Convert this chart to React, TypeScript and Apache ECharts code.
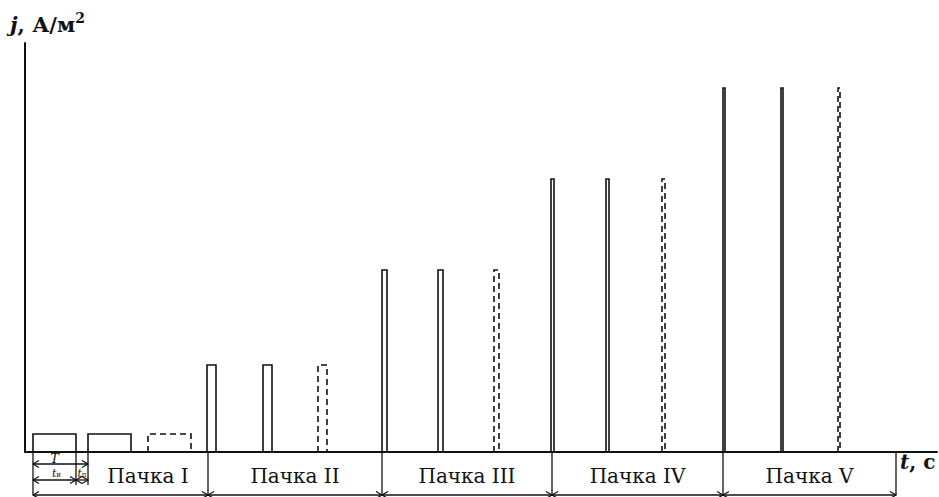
import React, { useEffect, useRef } from "react";
import * as echarts from "echarts";

// Burst (pack) names and boundaries along the time axis (arbitrary time units)
const groupNames = ["Пачка I", "Пачка II", "Пачка III", "Пачка IV", "Пачка V"];
const groupBounds = [8, 183, 357, 527, 698, 871];
// Start time of each of the three pulses in every burst
const pulseStarts = [
  [8, 63, 123],
  [182, 238, 293],
  [357, 413, 469],
  [526, 581, 637],
  [698, 756, 813],
];
// Pulse duration and current density amplitude per burst
const pulseWidths = [43, 9, 5, 3, 2];
const amplitudes = [18, 87, 182, 273, 364];
// Third pulse in every burst is dashed
const dashedPulse = [0, 0, 1];
const tMax = 912;
const jMax = 409;

const FONT = "'DejaVu Serif', 'Liberation Serif', serif";
const INK = "#111";

function arrowHead(x: number, y: number, dir: number) {
  return {
    type: "polyline",
    shape: { points: [[x - dir * 6, y - 3.5], [x, y], [x - dir * 6, y + 3.5]] },
    style: { stroke: INK, lineWidth: 1.2, fill: null },
  };
}

function dimLine(x0: number, x1: number, y: number) {
  return [
    { type: "line", shape: { x1: x0, y1: y, x2: x1, y2: y }, style: { stroke: INK, lineWidth: 1.3 } },
    arrowHead(x0, y, -1),
    arrowHead(x1, y, 1),
  ];
}

export default function App() {
  const ref = useRef<HTMLDivElement>(null);

  useEffect(() => {
    if (!ref.current) return;
    const chart = echarts.init(ref.current, null, { renderer: "svg" });

    const pulseData: number[][] = [];
    pulseStarts.forEach((starts, g) => {
      starts.forEach((s, i) => {
        pulseData.push([s, pulseWidths[g], amplitudes[g], dashedPulse[i]]);
      });
    });

    const boundData = groupBounds.map((b, i) => [b, i]);

    const option: any = {
      animation: false,
      backgroundColor: "#fff",
      grid: { left: 25, right: 2, top: 43, bottom: 45 },
      xAxis: {
        type: "value",
        min: 0,
        max: tMax,
        axisLine: { show: true, lineStyle: { color: INK, width: 2 } },
        axisTick: { show: false },
        axisLabel: { show: false },
        splitLine: { show: false },
      },
      yAxis: {
        type: "value",
        min: 0,
        max: jMax,
        axisLine: { show: true, lineStyle: { color: INK, width: 2 } },
        axisTick: { show: false },
        axisLabel: { show: false },
        splitLine: { show: false },
      },
      series: [
        {
          type: "custom",
          clip: false,
          data: pulseData,
          renderItem: (params: any, api: any) => {
            const s = api.value(0);
            const w = api.value(1);
            const a = api.value(2);
            const d = api.value(3);
            const p0 = api.coord([s, 0]);
            const p1 = api.coord([s + w, a]);
            return {
              type: "polyline",
              shape: {
                points: [
                  [p0[0], p0[1]],
                  [p0[0], p1[1]],
                  [p1[0], p1[1]],
                  [p1[0], p0[1]],
                ],
              },
              style: {
                stroke: INK,
                lineWidth: 1.6,
                fill: null,
                lineDash: d ? [6, 4] : null,
              },
            };
          },
        },
        {
          type: "custom",
          clip: false,
          data: boundData,
          renderItem: (params: any, api: any) => {
            const b = api.value(0);
            const i = api.value(1);
            const p = api.coord([b, 0]);
            const yb = p[1] + 43;
            const children: any[] = [
              { type: "line", shape: { x1: p[0], y1: p[1], x2: p[0], y2: yb }, style: { stroke: INK, lineWidth: 1.3 } },
            ];
            if (i < groupBounds.length - 1) {
              const q = api.coord([groupBounds[i + 1], 0]);
              children.push(...dimLine(p[0], q[0], yb));
              const from = i === 0 ? api.coord([pulseStarts[0][1], 0])[0] : p[0];
              children.push({
                type: "text",
                style: {
                  text: groupNames[i],
                  x: (from + q[0]) / 2,
                  y: p[1] + 24,
                  align: "center",
                  verticalAlign: "middle",
                  fontFamily: FONT,
                  fontSize: 20,
                  fill: INK,
                },
              });
            }
            return { type: "group", children };
          },
        },
        {
          type: "custom",
          clip: false,
          data: [[pulseStarts[0][0], pulseStarts[0][0] + pulseWidths[0], pulseStarts[0][1]]],
          renderItem: (params: any, api: any) => {
            const a = api.coord([api.value(0), 0]);
            const b = api.coord([api.value(1), 0]);
            const c = api.coord([api.value(2), 0]);
            const y0 = a[1];
            const children: any[] = [
              { type: "line", shape: { x1: b[0], y1: y0, x2: b[0], y2: y0 + 33 }, style: { stroke: INK, lineWidth: 1.3 } },
              { type: "line", shape: { x1: c[0], y1: y0, x2: c[0], y2: y0 + 33 }, style: { stroke: INK, lineWidth: 1.3 } },
              ...dimLine(a[0], c[0], y0 + 12),
              ...dimLine(a[0], b[0], y0 + 28),
              ...dimLine(b[0], c[0], y0 + 28),
              {
                type: "text",
                style: {
                  text: "T",
                  x: (a[0] + b[0]) / 2,
                  y: y0 + 6,
                  align: "center",
                  verticalAlign: "middle",
                  fontFamily: FONT,
                  fontStyle: "italic",
                  fontSize: 13,
                  fill: INK,
                },
              },
              {
                type: "text",
                style: {
                  text: "{t|t}{s|и}",
                  x: (a[0] + b[0]) / 2 + 2,
                  y: y0 + 21,
                  align: "center",
                  verticalAlign: "middle",
                  rich: {
                    t: { fontFamily: FONT, fontStyle: "italic", fontSize: 11, fill: INK },
                    s: { fontFamily: FONT, fontSize: 7, fill: INK, verticalAlign: "bottom" },
                  },
                },
              },
              {
                type: "text",
                style: {
                  text: "{t|t}{s|п}",
                  x: (b[0] + c[0]) / 2,
                  y: y0 + 21,
                  align: "center",
                  verticalAlign: "middle",
                  rich: {
                    t: { fontFamily: FONT, fontStyle: "italic", fontSize: 11, fill: INK },
                    s: { fontFamily: FONT, fontSize: 7, fill: INK, verticalAlign: "bottom" },
                  },
                },
              },
            ];
            return { type: "group", children };
          },
        },
      ],
      graphic: [
        {
          type: "text",
          left: 10,
          top: 11,
          style: {
            text: "{i|j}{b|, А/м}{s|2}",
            rich: {
              i: { fontFamily: FONT, fontStyle: "italic", fontWeight: "bold", fontSize: 21, fill: INK, lineHeight: 26 },
              b: { fontFamily: FONT, fontWeight: "bold", fontSize: 21, fill: INK, lineHeight: 26 },
              s: { fontFamily: FONT, fontWeight: "bold", fontSize: 14, fill: INK, verticalAlign: "top", lineHeight: 16 },
            },
          },
        },
        {
          type: "text",
          left: 900,
          top: 452,
          style: {
            text: "{i|t}{b|, с}",
            rich: {
              i: { fontFamily: FONT, fontStyle: "italic", fontWeight: "bold", fontSize: 20, fill: INK },
              b: { fontFamily: FONT, fontWeight: "bold", fontSize: 20, fill: INK },
            },
          },
        },
      ],
    };

    chart.setOption(option);
    return () => chart.dispose();
  }, []);

  return (
    <div
      ref={ref}
      style={{ position: "fixed", left: 0, top: 0, width: 939, height: 497, background: "#fff" }}
    />
  );
}
